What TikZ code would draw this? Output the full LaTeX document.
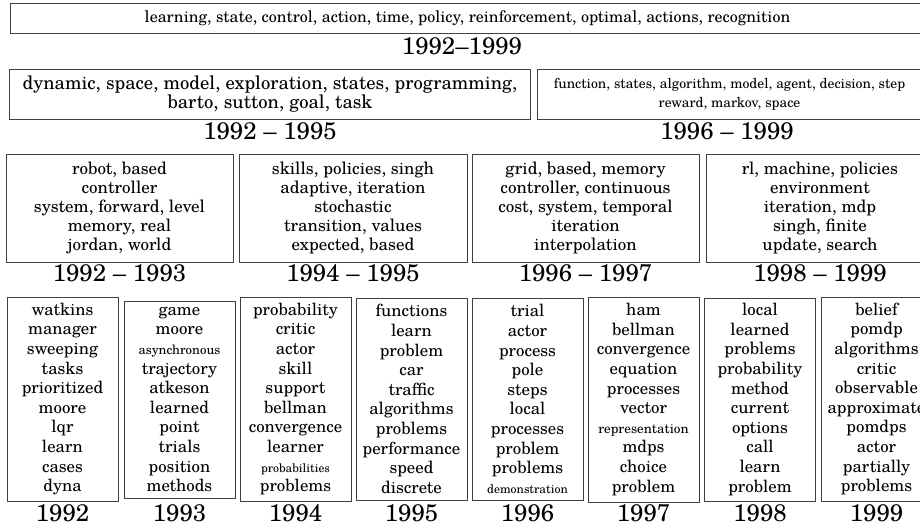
\documentclass[tikz,border=0pt]{standalone}
\usepackage{fontspec}
\setmainfont{TeX Gyre Schola}
\begin{document}
\begin{tikzpicture}[x=1pt,y=-1pt,
  box/.style={draw=black!75, line width=0.8pt, inner sep=0pt, align=center},
  toptext/.style={font=\fontsize{16}{19}\selectfont},
  grptext/.style={font=\fontsize{17}{19.2}\selectfont},
  yeartext/.style={font=\fontsize{16.8}{19.6}\selectfont},
  period/.style={font=\fontsize{24}{26}\selectfont, inner sep=0pt},
]
\newcommand{\fitword}[2]{{\fontsize{#1}{12}\selectfont #2}}
\clip (0,0) rectangle (920,529);
\useasboundingbox (0,0) rectangle (920,529);

% whole period
\node[box, toptext, minimum width=915, minimum height=30] (all) at (467.5,18)
  {learning, state, control, action, time, policy, reinforcement, optimal, actions, recognition};
\node[period] (allL) at (462,46) {1992--1999};

% two halves
\node[box, font=\fontsize{18.6}{19}\selectfont, minimum width=521, minimum height=50] (h1) at (270,94)
  {dynamic, space, model, exploration, states, programming,\\ barto, sutton, goal, task};
\node[box, font=\fontsize{13.8}{19}\selectfont, minimum width=385, minimum height=50] (h2) at (729.5,94)
  {function, states, algorithm, model, agent, decision, step\\ reward, markov, space};
\node[period] (h1L) at (270,131) {1992 -- 1995};
\node[period] (h2L) at (727,131) {1996 -- 1999};

% two-year groups
\node[box, grptext, minimum width=227, minimum height=108] (g1) at (119.5,208)
  {robot, based\\ controller\\ system, forward, level\\ memory, real\\ jordan, world};
\node[box, grptext, minimum width=228, minimum height=108] (g2) at (353,208)
  {skills, policies, singh\\ adaptive, iteration\\ stochastic\\ transition, values\\ expected, based};
\node[box, grptext, minimum width=227, minimum height=108] (g3) at (585.5,208)
  {grid, based, memory\\ controller, continuous\\ cost, system, temporal\\ iteration\\ interpolation};
\node[box, grptext, minimum width=228, minimum height=108] (g4) at (820,208)
  {rl, machine, policies\\ environment\\ iteration, mdp\\ singh, finite\\ update, search};
\foreach \n/\t in {g1/1992 -- 1993, g2/1994 -- 1995, g3/1996 -- 1997, g4/1998 -- 1999}
  \node[period] (\n L) at (\n |- 0,273) {\t};

% single years
\node[box, yeartext, minimum width=111, minimum height=204] (y1) at (62.5,399)
  {watkins\\ manager\\ sweeping\\ tasks\\ prioritized\\ moore\\ lqr\\ learn\\ cases\\ dyna};
\node[box, yeartext, minimum width=111, minimum height=197] (y2) at (179.5,399.5)
  {game\\ moore\\ \fitword{12.9}{asynchronous}\\ trajectory\\ atkeson\\ learned\\ point\\ trials\\ position\\ methods};
\node[box, yeartext, minimum width=111, minimum height=204] (y3) at (295.5,399)
  {probability\\ critic\\ actor\\ skill\\ support\\ bellman\\ convergence\\ learner\\ \fitword{11.9}{probabilities}\\ problems};
\node[box, yeartext, minimum width=111, minimum height=202] (y4) at (411.5,399)
  {functions\\ learn\\ problem\\ car\\ traffic\\ algorithms\\ problems\\ performance\\ speed\\ discrete};
\node[box, yeartext, minimum width=111, minimum height=202] (y5) at (527.5,399)
  {trial\\ actor\\ process\\ pole\\ steps\\ local\\ processes\\ problem\\ problems\\ \fitword{12}{demonstration}};
\node[box, yeartext, minimum width=111, minimum height=205] (y6) at (643.5,399.5)
  {ham\\ bellman\\ convergence\\ equation\\ processes\\ vector\\ \fitword{13.3}{representation}\\ mdps\\ choice\\ problem};
\node[box, yeartext, minimum width=111, minimum height=203] (y7) at (760,399.5)
  {local\\ learned\\ problems\\ probability\\ method\\ current\\ options\\ call\\ learn\\ problem};
\node[box, yeartext, minimum width=111, minimum height=204] (y8) at (876.5,399)
  {belief\\ pomdp\\ algorithms\\ critic\\ observable\\ approximate\\ pomdps\\ actor\\ partially\\ problems};
\foreach \n/\t in {y1/1992, y2/1993, y3/1994, y4/1995, y5/1996, y6/1997, y7/1998, y8/1999}
  \node[period] (\n L) at (\n |- 0,513) {\t};
\end{tikzpicture}
\end{document}
